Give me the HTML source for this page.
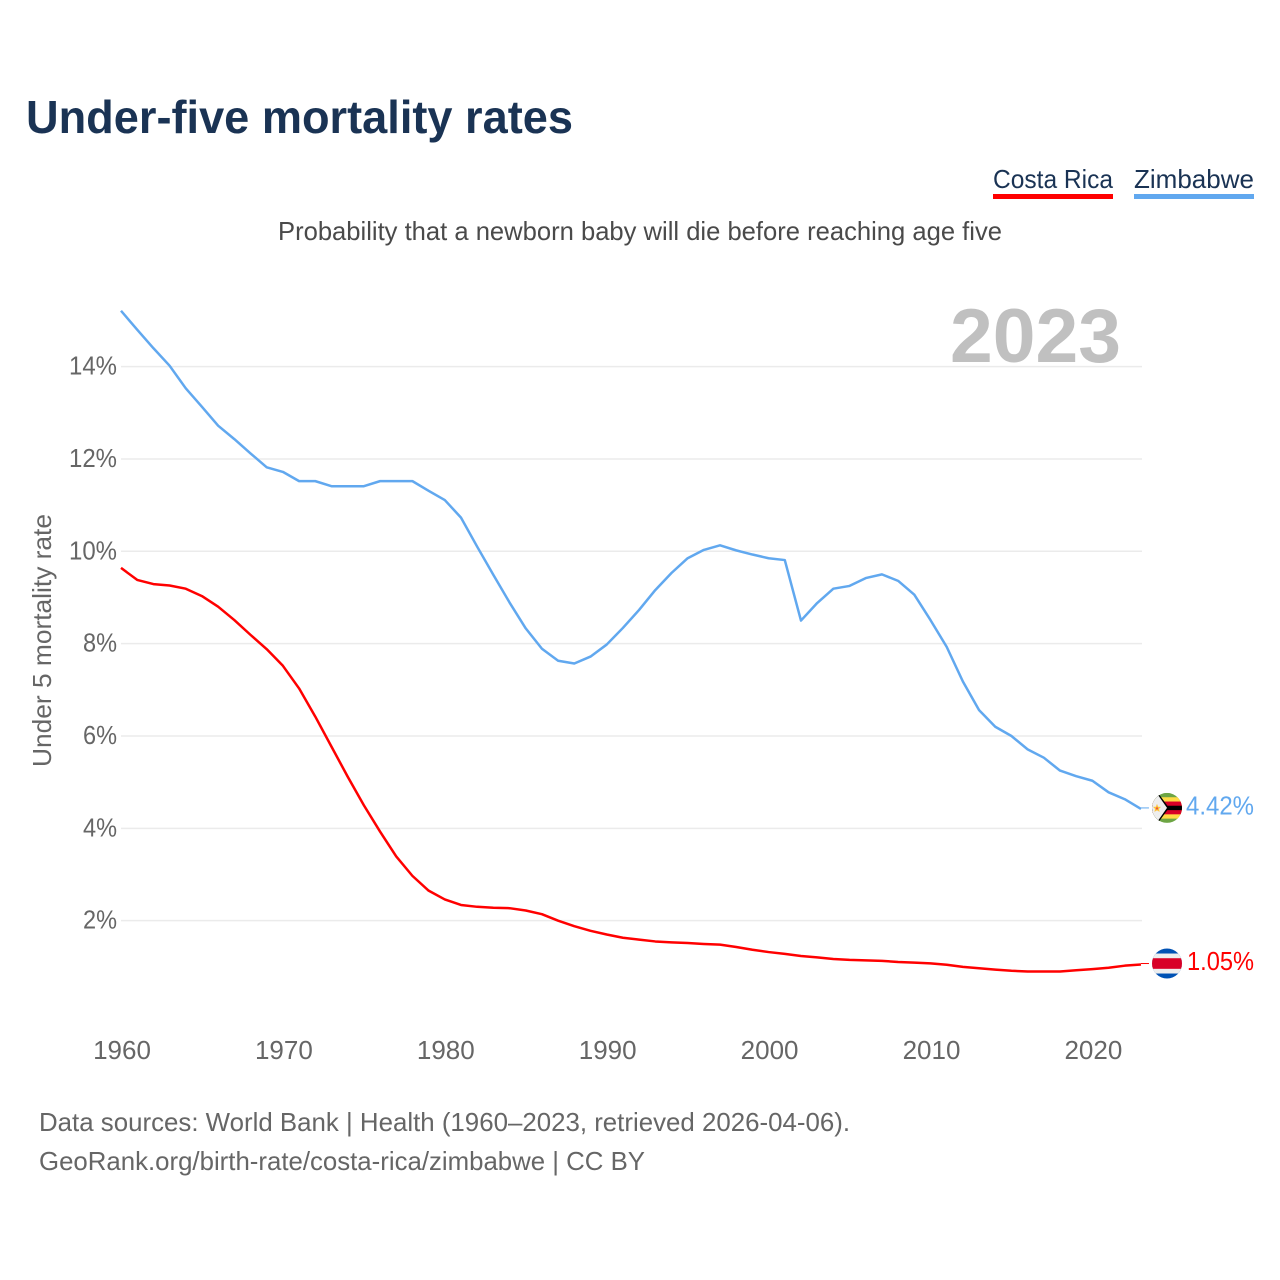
<!DOCTYPE html>
<html lang="en">
<head>
<meta charset="utf-8">
<title>Under-five mortality rates</title>
<style>
html,body{margin:0;padding:0;background:#fff;}
svg{display:block;font-family:"Liberation Sans",sans-serif;}
</style>
</head>
<body>
<svg id="chart" xmlns="http://www.w3.org/2000/svg" width="1280" height="1280" viewBox="0 0 1280 1280">
  <defs>
    <clipPath id="flag-clip"><circle cx="0" cy="0" r="15"></circle></clipPath>
  </defs>
  <rect x="0" y="0" width="1280" height="1280" fill="#ffffff"></rect>
  <text x="26" y="133" font-size="46" font-weight="700" fill="#1a3354" textLength="547" lengthAdjust="spacingAndGlyphs">Under-five mortality rates</text>

  <g>
    <g>
      <text x="993" y="188" font-size="26" fill="#1a3354" textLength="120" lengthAdjust="spacingAndGlyphs">Costa Rica</text>
      <rect x="993" y="194" width="120" height="5" fill="#ff0000"></rect>
    </g>
    <g>
      <text x="1134" y="188" font-size="26" fill="#1a3354" textLength="120" lengthAdjust="spacingAndGlyphs">Zimbabwe</text>
      <rect x="1134" y="194" width="120" height="5" fill="#61a8ef"></rect>
    </g>
  </g>

  <text x="278" y="240" font-size="26" fill="#4a4a4a" textLength="724" lengthAdjust="spacingAndGlyphs">Probability that a newborn baby will die before reaching age five</text>

  <g id="grid"></g>

  <text x="950" y="362" font-size="76" font-weight="700" fill="#c0c0c0" textLength="171" lengthAdjust="spacingAndGlyphs">2023</text>

  <g id="y-ticks"></g>
  <g id="x-ticks"></g>
  <text transform="translate(51,767) rotate(-90)" x="0" y="0" font-size="26" fill="#666666" textLength="253" lengthAdjust="spacingAndGlyphs">Under 5 mortality rate</text>

  <g id="series"></g>

  <g id="flag-zw">
    <g clip-path="url(#flag-clip)">
      <rect x="-15" y="-15" width="30" height="30" fill="#6da544"></rect>
      <rect x="-15" y="-10.7" width="30" height="21.4" fill="#ffda44"></rect>
      <rect x="-15" y="-6.4" width="30" height="12.8" fill="#d80027"></rect>
      <rect x="-15" y="-2.2" width="30" height="4.4" fill="#000000"></rect>
      <polygon points="-15,-15 -9,-15 2,0 -9,15 -15,15" fill="#000000"></polygon>
      <polygon points="-15,-15 -10.5,-15 0,0 -10.5,15 -15,15" fill="#eeeeee"></polygon>
      <polygon points="-10,-4 -8.8,-1.2 -6,-1 -8,1 -7.4,4 -10,2.4 -12.6,4 -12,1 -14,-1 -11.2,-1.2" fill="#ffc43d"></polygon>
      <circle cx="-10" cy="0.5" r="1.2" fill="#e8583c"></circle>
    </g>
  </g>
  <g id="flag-cr">
    <g clip-path="url(#flag-clip)">
      <rect x="-15" y="-15" width="30" height="30" fill="#0052b4"></rect>
      <rect x="-15" y="-10" width="30" height="20" fill="#eeeeee"></rect>
      <rect x="-15" y="-5.3" width="30" height="10.6" fill="#d80027"></rect>
    </g>
  </g>

  <text id="label-zw" x="1186" font-size="26" fill="#61a8ef" textLength="68" lengthAdjust="spacingAndGlyphs"></text>
  <text id="label-cr" x="1187" font-size="26" fill="#ff0000" textLength="67" lengthAdjust="spacingAndGlyphs"></text>

  <text x="39" y="1131" font-size="26" fill="#666666" textLength="811" lengthAdjust="spacingAndGlyphs">Data sources: World Bank | Health (1960–2023, retrieved 2026-04-06).</text>
  <text x="39" y="1170" font-size="26" fill="#666666" textLength="606" lengthAdjust="spacingAndGlyphs">GeoRank.org/birth-rate/costa-rica/zimbabwe | CC BY</text>
</svg>
<script>
const firstYear = 1960;
const xTickYears = [1960, 1970, 1980, 1990, 2000, 2010, 2020];
const yTickValues = [2, 4, 6, 8, 10, 12, 14];
const costaRica = [9.64, 9.38, 9.29, 9.26, 9.19, 9.03, 8.80, 8.51, 8.19, 7.88,
  7.52, 7.03, 6.42, 5.77, 5.12, 4.50, 3.93, 3.39, 2.97, 2.65,
  2.46, 2.34, 2.30, 2.28, 2.27, 2.22, 2.14, 2.00, 1.88, 1.78,
  1.70, 1.63, 1.59, 1.55, 1.53, 1.515, 1.495, 1.48, 1.43, 1.37,
  1.32, 1.28, 1.235, 1.205, 1.17, 1.15, 1.14, 1.13, 1.105, 1.09,
  1.075, 1.045, 1.00, 0.97, 0.94, 0.915, 0.90, 0.90, 0.90, 0.925,
  0.95, 0.98, 1.025, 1.05];
const zimbabwe = [15.21, 14.8, 14.4, 14.02, 13.53, 13.13, 12.72, 12.43, 12.12, 11.82,
  11.72, 11.52, 11.52, 11.41, 11.41, 11.41, 11.52, 11.52, 11.52, 11.31,
  11.11, 10.73, 10.10, 9.49, 8.89, 8.33, 7.89, 7.63, 7.57, 7.72,
  7.98, 8.34, 8.73, 9.16, 9.53, 9.85, 10.03, 10.13, 10.02, 9.93,
  9.85, 9.81, 8.50, 8.88, 9.19, 9.25, 9.42, 9.50, 9.36, 9.06,
  8.51, 7.93, 7.18, 6.56, 6.20, 6.00, 5.71, 5.53, 5.25, 5.13,
  5.03, 4.78, 4.63, 4.42];

const NS = 'http://www.w3.org/2000/svg';
function xScale(year) { return 121 + (year - firstYear) * 16.19; }
function yScale(value) { return 1013 - value * 46.17; }
function linePath(values) {
  return values.map(function (v, i) {
    return (i ? 'L' : 'M') + xScale(firstYear + i).toFixed(2) + ' ' + yScale(v).toFixed(2);
  }).join(' ');
}

const grid = document.getElementById('grid');
const yTicks = document.getElementById('y-ticks');
yTickValues.forEach(function (v) {
  const g = document.createElementNS(NS, 'line');
  
  
  g.setAttribute('x1', 121);
  g.setAttribute('x2', 1142);
  g.setAttribute('y1', yScale(v));
  g.setAttribute('y2', yScale(v));
  g.setAttribute('stroke', '#ebebeb');
  g.setAttribute('stroke-width', '1.5');
  grid.appendChild(g);
  const t = document.createElementNS(NS, 'text');
  
  
  t.setAttribute('x', 117);
  t.setAttribute('y', yScale(v) + 8);
  t.setAttribute('text-anchor', 'end');
  t.setAttribute('font-size', '26');
  t.setAttribute('fill', '#666666');
  t.setAttribute('textLength', v < 10 ? '34' : '48');
  t.setAttribute('lengthAdjust', 'spacingAndGlyphs');
  t.textContent = v + '%';
  yTicks.appendChild(t);
});

const xTicks = document.getElementById('x-ticks');
xTickYears.forEach(function (year) {
  const t = document.createElementNS(NS, 'text');
  
  
  t.setAttribute('x', xScale(year) + 1);
  t.setAttribute('y', 1059);
  t.setAttribute('text-anchor', 'middle');
  t.setAttribute('font-size', '26');
  t.setAttribute('fill', '#666666');
  t.textContent = year;
  xTicks.appendChild(t);
});

const seriesGroup = document.getElementById('series');
function drawSeries(values, color, name, flagId, labelId) {
  const path = document.createElementNS(NS, 'path');
  
  
  path.setAttribute('d', linePath(values));
  path.setAttribute('fill', 'none');
  path.setAttribute('stroke', color);
  path.setAttribute('stroke-width', '2.5');
  path.setAttribute('stroke-linejoin', 'round');
  seriesGroup.appendChild(path);

  const last = values[values.length - 1];
  const lastX = xScale(firstYear + values.length - 1);
  const lastY = yScale(last);
  const endY = lastY - 1;
  const connector = document.createElementNS(NS, 'line');
  
  
  connector.setAttribute('x1', lastX);
  connector.setAttribute('x2', lastX + 8);
  connector.setAttribute('y1', endY);
  connector.setAttribute('y2', endY);
  connector.setAttribute('stroke', color);
  connector.setAttribute('stroke-width', '1');
  seriesGroup.appendChild(connector);

  document.getElementById(flagId).setAttribute('transform', 'translate(1167,' + endY.toFixed(2) + ')');
  const label = document.getElementById(labelId);
  label.setAttribute('y', (lastY + 5.5).toFixed(2));
  label.textContent = last.toFixed(2) + '%';
}
drawSeries(zimbabwe, '#61a8ef', 'zimbabwe', 'flag-zw', 'label-zw');
drawSeries(costaRica, '#ff0000', 'costa-rica', 'flag-cr', 'label-cr');
</script>
</body>
</html>
